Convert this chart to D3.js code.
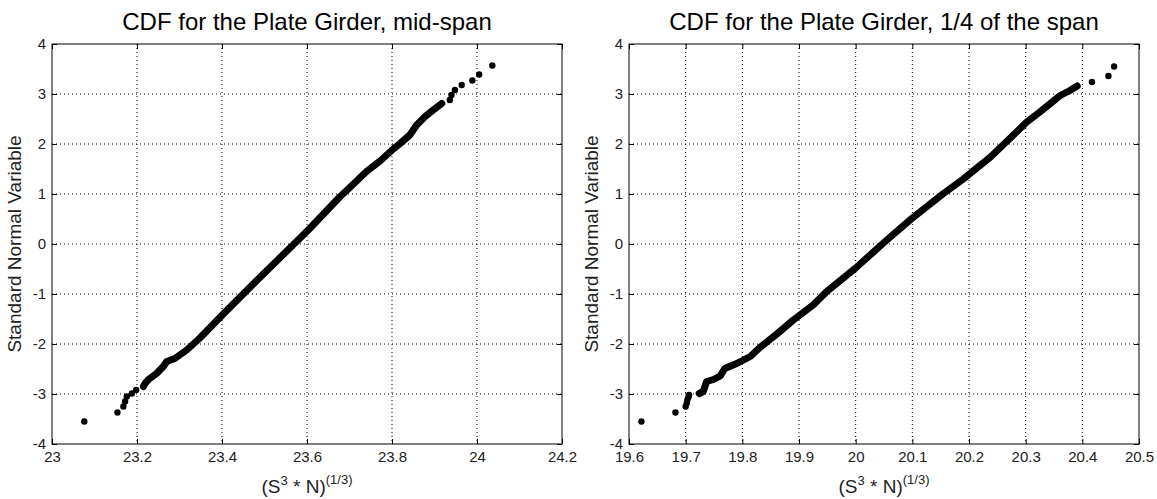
<!DOCTYPE html>
<html>
<head>
<meta charset="utf-8">
<script src="https://cdn.jsdelivr.net/npm/d3@7"></script>
<style>
  body { margin: 0; background: #fff; }
  text { font-family: "Liberation Sans", Arial, sans-serif; }
</style>
</head>
<body>
<div id="chart"></div>
<script>
// values
// dense part of each sample (drawn as a thick run of markers)
var leftBody = [
  [23.215, -2.85], [23.219, -2.79], [23.227, -2.71], [23.246, -2.59], [23.262, -2.45],
  [23.270, -2.35], [23.289, -2.29], [23.317, -2.12], [23.348, -1.88], [23.403, -1.40],
  [23.489, -0.67], [23.603, 0.28], [23.678, 0.95], [23.697, 1.10], [23.740, 1.45],
  [23.772, 1.66], [23.803, 1.90], [23.819, 2.01], [23.842, 2.18], [23.858, 2.38],
  [23.878, 2.55], [23.897, 2.68], [23.917, 2.81]
];
// isolated points in the tails
var leftTail = [
  [23.076, -3.55], [23.154, -3.37], [23.168, -3.25], [23.172, -3.15], [23.176, -3.05],
  [23.188, -2.99], [23.198, -2.92], [23.936, 2.88], [23.940, 2.98], [23.948, 3.08],
  [23.964, 3.18], [23.989, 3.27], [24.005, 3.39], [24.036, 3.57]
];
var rightBody = [
  [19.724, -2.99], [19.731, -2.95], [19.737, -2.75], [19.749, -2.71], [19.761, -2.64],
  [19.769, -2.49], [19.790, -2.39], [19.814, -2.25], [19.831, -2.07], [19.861, -1.80],
  [19.890, -1.52], [19.925, -1.22], [19.949, -0.95], [19.999, -0.49], [20.055, 0.08],
  [20.099, 0.51], [20.155, 1.01], [20.190, 1.30], [20.216, 1.54], [20.237, 1.73],
  [20.272, 2.11], [20.302, 2.44], [20.325, 2.64], [20.361, 2.97], [20.378, 3.07],
  [20.391, 3.16]
];
var rightTail = [
  [19.622, -3.55], [19.682, -3.37], [19.700, -3.25], [19.702, -3.18], [19.703, -3.12],
  [19.705, -3.06], [19.706, -3.02], [20.417, 3.24], [20.446, 3.36], [20.456, 3.55]
];

var leftTicksX = [23, 23.2, 23.4, 23.6, 23.8, 24, 24.2];
var rightTicksX = [19.6, 19.7, 19.8, 19.9, 20, 20.1, 20.2, 20.3, 20.4, 20.5];
var ticksY = [-4, -3, -2, -1, 0, 1, 2, 3, 4];

var panels = [
  { title: "CDF for the Plate Girder, mid-span", body: leftBody, tail: leftTail,
    xTicks: leftTicksX, x0: 52, x1: 562 },
  { title: "CDF for the Plate Girder, 1/4 of the span", body: rightBody, tail: rightTail,
    xTicks: rightTicksX, x0: 629, x1: 1139 }
];

var width = 1157, height = 499,
  plotTop = 44, plotBottom = 444;

var svg = d3.select("#chart")
  .append("svg")
  .attr("width", width)
  .attr("height", height);

var fmt = function(d) { return String(+d.toFixed(2)); };

panels.forEach(function(p) {
  var x = d3.scaleLinear()
    .domain(d3.extent(p.xTicks))
    .range([p.x0, p.x1]);
  var y = d3.scaleLinear().domain([-4, 4]).range([plotBottom, plotTop]);

  var g = svg.append("g");

  // dotted grid
  g.selectAll(".vgrid")
    .data(p.xTicks.slice(1, -1))
    .enter()
    .append("line")
    .attr("x1", d => x(d)).attr("x2", d => x(d))
    .attr("y1", plotTop).attr("y2", plotBottom)
    .attr("stroke", "#000")
    .attr("stroke-width", 1)
    .attr("stroke-dasharray", "1,3");
  g.selectAll(".hgrid")
    .data(ticksY.slice(1, -1))
    .enter()
    .append("line")
    .attr("x1", p.x0).attr("x2", p.x1)
    .attr("y1", d => y(d)).attr("y2", d => y(d))
    .attr("stroke", "#000")
    .attr("stroke-width", 1)
    .attr("stroke-dasharray", "1,3");

  // axes with inward ticks (MATLAB style)
  var ax = [
    g.append("g").attr("transform", "translate(0," + plotBottom + ")")
      .call(d3.axisBottom(x).tickValues(p.xTicks).tickFormat(fmt).tickSize(-5).tickSizeOuter(0).tickPadding(7)),
    g.append("g").attr("transform", "translate(" + p.x0 + ",0)")
      .call(d3.axisLeft(y).tickValues(ticksY).tickFormat(fmt).tickSize(-5).tickSizeOuter(0).tickPadding(6)),
    g.append("g").attr("transform", "translate(0," + plotTop + ")")
      .call(d3.axisTop(x).tickValues(p.xTicks).tickFormat("").tickSize(-5).tickSizeOuter(0)),
    g.append("g").attr("transform", "translate(" + p.x1 + ",0)")
      .call(d3.axisRight(y).tickValues(ticksY).tickFormat("").tickSize(-5).tickSizeOuter(0))
  ];
  ax.forEach(function(a) {
    a.select(".domain").remove();
    a.selectAll("text")
      .attr("font-family", "Liberation Sans, Arial, sans-serif")
      .attr("font-size", 15)
      .attr("fill", "#222");
  });

  // box
  g.append("rect")
    .attr("x", p.x0).attr("y", plotTop)
    .attr("width", p.x1 - p.x0).attr("height", plotBottom - plotTop)
    .attr("fill", "none")
    .attr("stroke", "#000")
    .attr("stroke-width", 1);

  // markers: dense run + isolated points
  var line = d3.line().x(d => x(d[0])).y(d => y(d[1]));
  g.append("path")
    .datum(p.body)
    .attr("d", line)
    .attr("fill", "none")
    .attr("stroke", "#000")
    .attr("stroke-width", 7)
    .attr("stroke-linecap", "round")
    .attr("stroke-linejoin", "round");
  g.selectAll(".dot")
    .data(p.tail)
    .enter()
    .append("circle")
    .attr("cx", d => x(d[0]))
    .attr("cy", d => y(d[1]))
    .attr("r", 3.2)
    .attr("fill", "#000");

  var cx = (p.x0 + p.x1) / 2;

  // title
  g.append("text")
    .attr("x", cx).attr("y", 30)
    .attr("text-anchor", "middle")
    .attr("font-size", 24)
    .attr("fill", "#000")
    .text(p.title);

  // x label with superscripts
  var xl = g.append("text")
    .attr("x", cx).attr("y", 493)
    .attr("text-anchor", "middle")
    .attr("font-size", 19)
    .attr("fill", "#222");
  xl.append("tspan").text("(S");
  xl.append("tspan").attr("dy", -8).attr("font-size", 13).text("3");
  xl.append("tspan").attr("dy", 8).text(" * N)");
  xl.append("tspan").attr("dy", -9).attr("font-size", 13).text("(1/3)");

  // y label
  g.append("text")
    .attr("transform", "translate(" + (p.x0 - 31) + "," + (plotTop + plotBottom) / 2 + ") rotate(-90)")
    .attr("text-anchor", "middle")
    .attr("font-size", 19)
    .attr("fill", "#222")
    .text("Standard Normal Variable");
});
</script>
</body>
</html>
